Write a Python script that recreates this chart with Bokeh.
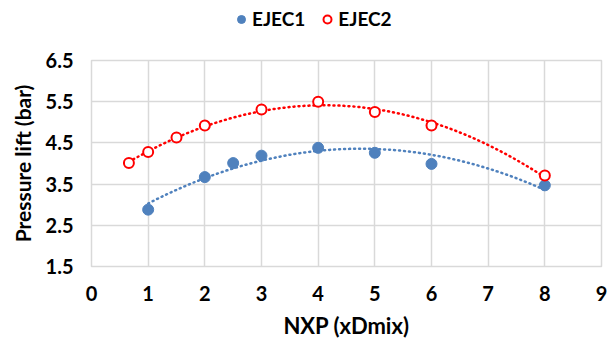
import numpy as np
from bokeh.plotting import figure
from bokeh.layouts import column
from bokeh.models import Legend, LegendItem, Range1d, FixedTicker
from bokeh.embed import file_html
from bokeh.resources import INLINE

# Data
x1 = [1, 2, 2.5, 3, 4, 5, 6, 8]
y1 = [2.88, 3.67, 4.01, 4.19, 4.38, 4.26, 3.99, 3.47]
x2 = [0.66, 1, 1.5, 2, 3, 4, 5, 6, 8]
y2 = [4.01, 4.28, 4.63, 4.92, 5.31, 5.50, 5.25, 4.92, 3.71]
xticks = [0, 1, 2, 3, 4, 5, 6, 7, 8, 9]
yticks = [1.5, 2.5, 3.5, 4.5, 5.5, 6.5]
names = ["EJEC1", "EJEC2"]

BLUE = "#4f81bd"
RED = "#ff0000"
FONT = "Lato"

p = figure(width=611, height=303, output_backend="svg", toolbar_location=None,
           x_range=Range1d(0, 9), y_range=Range1d(1.5, 6.5),
           min_border_left=91, min_border_right=10, min_border_top=20, min_border_bottom=77)

p.outline_line_color = "#d9d9d9"
p.outline_line_width = 1.5
p.background_fill_color = "white"
p.border_fill_color = "white"

for ax in (p.xaxis[0], p.yaxis[0]):
    ax.axis_line_color = None
    ax.major_tick_line_color = None
    ax.minor_tick_line_color = None
    ax.major_tick_out = 0
    ax.major_label_text_font = FONT
    ax.major_label_text_font_style = "bold"
    ax.major_label_text_font_size = "20px"
    ax.major_label_text_color = "#000000"
    ax.axis_label_text_font = FONT
    ax.axis_label_text_font_style = "bold"
    ax.axis_label_text_color = "#000000"

p.xaxis.axis_label_text_font_size = "22px"
p.yaxis.axis_label_text_font_size = "21px"
p.xaxis.ticker = FixedTicker(ticks=xticks)
p.yaxis.ticker = FixedTicker(ticks=yticks)
p.xaxis.axis_label = "NXP (xDmix)"
p.yaxis.axis_label = "Pressure lift (bar)"
p.xaxis.major_label_standoff = 19
p.xaxis.axis_label_standoff = 8
p.yaxis.major_label_standoff = 18
p.yaxis.axis_label_standoff = 8

p.xgrid.grid_line_color = "#d9d9d9"
p.ygrid.grid_line_color = "#d9d9d9"
p.xgrid.grid_line_width = 1.5
p.ygrid.grid_line_width = 1.5

# Polynomial (order 2) trendlines fitted to the data
c1 = np.polyfit(x1, y1, 2)
c2 = np.polyfit(x2, y2, 2)
t1 = np.linspace(min(x1), max(x1), 200)
t2 = np.linspace(min(x2), max(x2), 200)
p.line(t1, np.polyval(c1, t1), line_color=BLUE, line_width=2.5, line_dash="1 4", line_cap="round")
p.line(t2, np.polyval(c2, t2), line_color=RED, line_width=2.5, line_dash="1 4", line_cap="round")

p.scatter(x1, y1, size=11, fill_color=BLUE, line_color=BLUE)
p.scatter(x2, y2, size=10, fill_color="white", line_color=RED, line_width=2)

# Legend strip above the chart (its renderers fall outside this strip's ranges)
lg = figure(width=611, height=40, output_backend="svg", toolbar_location=None,
            x_range=Range1d(0, 1), y_range=Range1d(0, 1),
            min_border_left=0, min_border_right=0, min_border_top=0, min_border_bottom=0)
lg.axis.visible = False
lg.grid.visible = False
lg.outline_line_color = None
lr1 = lg.scatter(x1[:1], y1[:1], size=11, fill_color=BLUE, line_color=BLUE)
lr2 = lg.scatter(x2[:1], y2[:1], size=10, fill_color="white", line_color=RED, line_width=2)
legend = Legend(items=[LegendItem(label=names[0], renderers=[lr1]),
                       LegendItem(label=names[1], renderers=[lr2])],
                orientation="horizontal", location=(140, 10),
                border_line_color=None, background_fill_alpha=0,
                label_text_font=FONT, label_text_font_style="bold",
                label_text_color="#000000",
                label_text_font_size="19px", glyph_width=20, glyph_height=20,
                label_standoff=1, spacing=12, padding=0, margin=0)
lg.add_layout(legend)

layout = column(lg, p, spacing=0)
open("out.html", "w").write(file_html(layout, INLINE))
